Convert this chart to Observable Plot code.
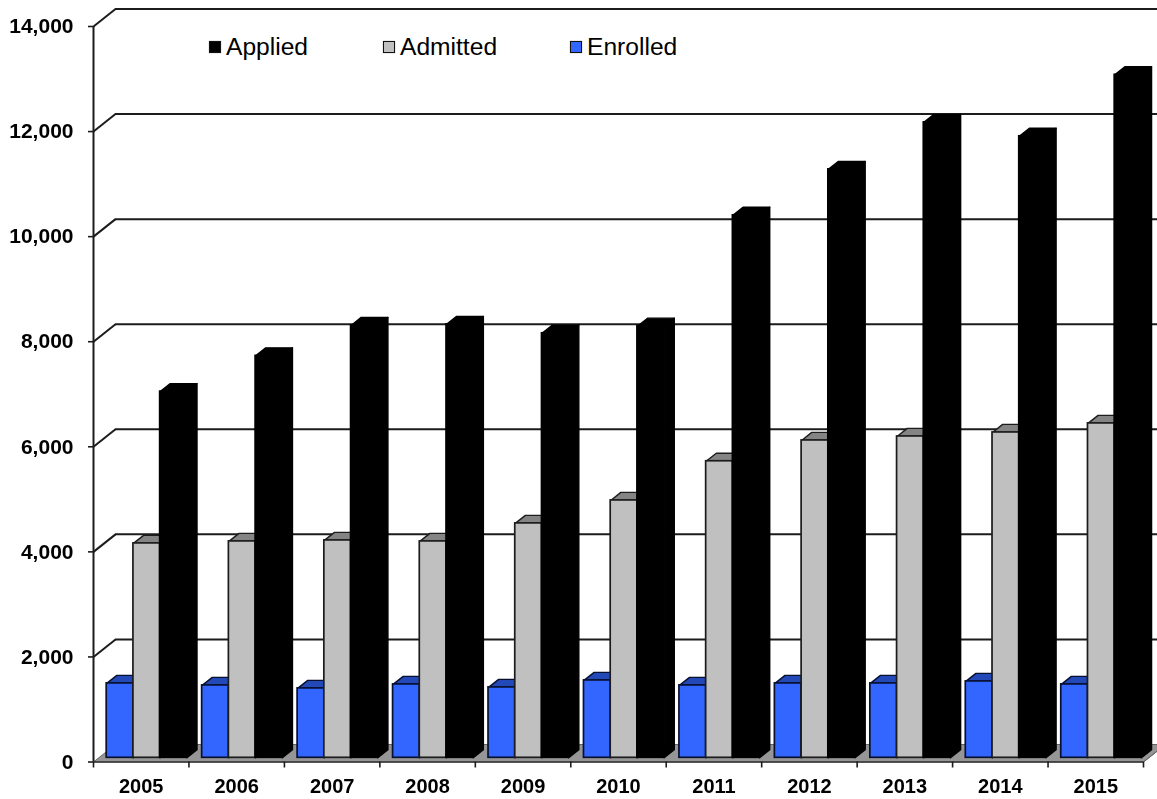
<!DOCTYPE html>
<html><head><meta charset="utf-8">
<script src="https://cdn.jsdelivr.net/npm/d3@7"></script>
<script src="https://cdn.jsdelivr.net/npm/@observablehq/plot@0.6"></script>
<style>
html,body{margin:0;padding:0;background:#fff;overflow:hidden}
#wrap{position:relative;width:1157px;height:799px;overflow:hidden;font-family:"Liberation Sans",Arial,sans-serif}
#wrap svg{display:block;filter:blur(0.45px)}
#legend{position:absolute;left:209px;top:33px;height:28px;font-size:24.6px;color:#000;line-height:28px}
#legend span.item{position:absolute;top:0;white-space:nowrap;display:flex;align-items:center}
#legend i{display:inline-block;width:10px;height:10px;border:1.5px solid #111;margin-right:5px;box-shadow:0 0 1px #888}
</style></head><body>
<div id="wrap"><div id="chart"></div><div id="legend"></div></div>
<script>
const years    = [2005,2006,2007,2008,2009,2010,2011,2012,2013,2014,2015];
const enrolled = [1416,1378,1321,1397,1340,1473,1378,1416,1416,1454,1397];
const admitted = [4081,4119,4138,4119,4462,4899,5645,6041,6117,6193,6365];
const applied  = [6970,7650,8230,8250,8080,8215,10325,11200,12095,11830,13000];
const yTicks   = [0,2000,4000,6000,8000,10000,12000,14000];

const series = [
  {name:"Enrolled", values:enrolled, front:"#3366ff", top:"#2349b8", edge:"#081030", slot:0},
  {name:"Admitted", values:admitted, front:"#c0c0c0", top:"#848484", edge:"#1c1c1c", slot:1},
  {name:"Applied",  values:applied,  front:"#000000", top:"#000000", edge:"#000000", slot:2}
];
const legendOrder = ["Applied","Admitted","Enrolled"];
const legendLeft  = {Applied:0, Admitted:174, Enrolled:361};

// oblique projection: depth 0 = front of the floor, depth 1 = back wall
const DX = 0.2305, DY = 333;
const px = (x,d) => x + d*DX, py = (v,d) => v + d*DY;
const D0 = 0.24, D1 = 0.70, START = 0.083, BAR = 0.28;

const ring = (id, pts) => [...pts, pts[0]].map(([x,y]) => ({id,x,y}));
const bars=[], tops=[], sides=[];
for (const s of series) {
  s.values.forEach((v,i)=>{
    const a = i+START+s.slot*BAR, b = a+BAR;
    bars.push({s, x1:px(a,D0), x2:px(b,D0), y1:py(0,D0), y2:py(v,D0)});
    tops.push(...ring(s.name+i, [[px(a,D0),py(v,D0)],[px(a,D1),py(v,D1)],[px(b,D1),py(v,D1)],[px(b,D0),py(v,D0)]]).map(o=>({...o,s})));
    sides.push(...ring(s.name+i, [[px(b,D0),py(0,D0)],[px(b,D1),py(0,D1)],[px(b,D1),py(v,D1)],[px(b,D0),py(v,D0)]]).map(o=>({...o,s})));
  });
}
const floor = ring("floor", [[0,py(0,0)],[years.length,py(0,0)],[px(years.length,1),py(0,1)],[px(0,1),py(0,1)]]);

const layer = s => [
  Plot.line(sides.filter(o=>o.s===s), {x:"x",y:"y",z:"id",fill:s.top,stroke:s.edge,strokeWidth:1.4}),
  Plot.line(tops.filter(o=>o.s===s),  {x:"x",y:"y",z:"id",fill:s.top,stroke:s.edge,strokeWidth:1.4}),
  Plot.rect(bars.filter(o=>o.s===s),  {x1:"x1",x2:"x2",y1:"y1",y2:"y2",fill:s.front,stroke:s.edge,strokeWidth:1.7})
];

const chart = Plot.plot({
  width:1157, height:799,
  marginLeft:93, marginRight:14, marginTop:26, marginBottom:37.5,
  style:{background:"#fff",fontFamily:"'Liberation Sans',Arial,sans-serif",color:"#000"},
  x:{domain:[0,years.length],axis:null},
  y:{domain:[0,14000],axis:null},
  marks:[
    Plot.line(floor,{x:"x",y:"y",z:"id",fill:"#969696",stroke:"#666",strokeWidth:1}),
    Plot.ruleY(yTicks.filter(d=>d>0),{y:d=>py(d,1),x1:px(0,1),x2:px(years.length,1),stroke:"#1c1c1c",strokeWidth:2}),
    Plot.link(yTicks.filter(d=>d>0),{x1:0,y1:d=>d,x2:px(0,1),y2:d=>py(d,1),stroke:"#1c1c1c",strokeWidth:2}),
    Plot.ruleX([0],{y1:0,y2:14000,stroke:"#1c1c1c",strokeWidth:2}),
    Plot.ruleY([0],{x1:0,x2:years.length,stroke:"#333",strokeWidth:1.5}),
    Plot.link([0],{x1:years.length,y1:0,x2:px(years.length,1),y2:py(0,1),stroke:"#666",strokeWidth:1}),
    ...series.flatMap(layer),
    Plot.axisY(yTicks,{anchor:"left",tickSize:5,tickPadding:15,tickFormat:d3.format(","),fontSize:21,fontWeight:"bold",label:null,strokeWidth:1.6,stroke:"#1c1c1c",fill:"#000"}),
    Plot.axisX(d3.range(years.length+1),{anchor:"bottom",tickSize:6,tickFormat:()=>"",label:null,strokeWidth:1.6,stroke:"#1c1c1c"}),
    Plot.axisX(years.map((_,i)=>i+.5),{anchor:"bottom",tickSize:0,tickPadding:17,tickFormat:d=>String(years[d-.5]),fontSize:20,fontWeight:"bold",label:null,fill:"#000"})
  ]
});
document.getElementById("chart").append(chart);

const lg=document.getElementById("legend");
for(const n of legendOrder){
  const s=series.find(o=>o.name===n);
  const el=document.createElement("span");el.className="item";el.style.left=legendLeft[n]+"px";
  const sw=document.createElement("i");sw.style.background=s.front;
  el.append(sw,document.createTextNode(n));lg.append(el);
}
</script></body></html>
